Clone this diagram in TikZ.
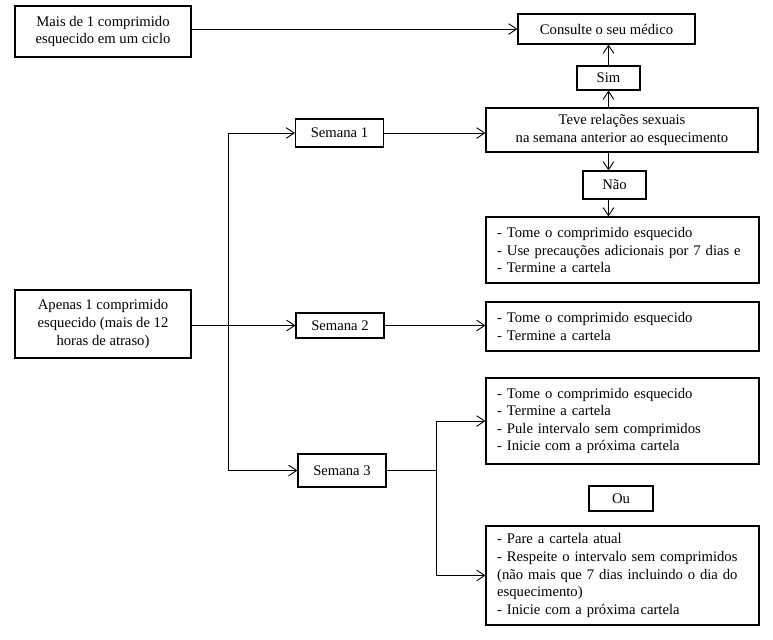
\documentclass[tikz,border=0pt]{standalone}
\usepackage{fontspec}
\setmainfont{Liberation Serif}
\usetikzlibrary{arrows.meta, positioning, calc}

\begin{document}
\begin{tikzpicture}[
    x=0.75pt, y=-0.75pt,
    every node/.style={font=\fontsize{11}{13.2}\selectfont},
    box/.style={rectangle, draw, line width=0.8pt, align=center, inner sep=2pt},
    listbox/.style={box, align=left, minimum width=204.75pt, text width=188pt,
                    inner xsep=8.25pt},
    weekbox/.style={box, minimum width=66pt},
    arr/.style={-{Straight Barb[length=6pt, width=8pt]}, line width=0.7pt},
    lin/.style={line width=0.7pt},
]
\useasboundingbox (0,0) rectangle (773,639);

% left column
\node[box, minimum width=132pt, minimum height=38.25pt] (maisde) at (103,31.5)
    {Mais de 1 comprimido\\esquecido em um ciclo};
\node[box, minimum width=132pt, minimum height=51pt] (apenas) at (103,324)
    {Apenas 1 comprimido\\esquecido (mais de 12\\horas de atraso)};

% weeks
\node[weekbox, minimum height=21pt] (sem1) at (339.5,133) {Semana 1};
\node[weekbox, minimum height=18.75pt] (sem2) at (340,325.5) {Semana 2};
\node[weekbox, minimum height=24.75pt] (sem3) at (342,470.5) {Semana 3};

% right column
\node[box, minimum width=132.75pt, minimum height=22.5pt] (medico) at (606.5,29)
    {Consulte o seu médico};
\node[box, minimum width=47.25pt, minimum height=18pt] (sim) at (608.5,78) {Sim};
\node[box, minimum width=204pt, minimum height=33pt] (relacoes) at (622,130)
    {Teve relações sexuais\\na semana anterior ao esquecimento};
\node[box, minimum width=47.25pt, minimum height=21pt] (nao) at (614.5,185) {Não};
\node[listbox, minimum height=49.5pt] (tome1) at (622.5,250)
    {- Tome o comprimido esquecido\\- Use precauções adicionais por 7 dias e\\- Termine a cartela};
\node[listbox, minimum height=36.75pt] (tome2) at (622.5,326.5)
    {- Tome o comprimido esquecido\\- Termine a cartela};
\node[listbox, minimum height=64.5pt] (tome3) at (622.5,421)
    {- Tome o comprimido esquecido\\- Termine a cartela\\- Pule intervalo sem comprimidos\\- Inicie com a próxima cartela};
\node[box, minimum width=48pt, minimum height=18.75pt] (ou) at (621,498.5) {Ou};
\node[listbox, minimum height=74.25pt] (pare) at (622.5,575.5)
    {- Pare a cartela atual\\- Respeite o intervalo sem comprimidos\\(não mais que 7 dias incluindo o dia do\\esquecimento)\\- Inicie com a próxima cartela};

% branch points
\coordinate (split) at (228,0);
\coordinate (fork) at (436,0);

% Arrows
\draw[arr] (maisde.east |- medico) -- (medico.west);
\draw[arr] (sim.north) -- (sim.north |- medico.south);
\draw[arr] (relacoes.north -| sim) -- (sim.south);
\draw[arr] (relacoes.south -| sim) -- (nao.north -| sim);
\draw[arr] (nao.south -| sim) -- (tome1.north -| sim);
\draw[arr] (sem1.east) -- (relacoes.west |- sem1);
\draw[arr] (sem2.east) -- (tome2.west |- sem2);
\draw[arr] (apenas.east |- sem2) -- (sem2.west);

% week split
\draw[lin] (split |- sem1) -- (split |- sem3);
\draw[arr] (split |- sem1) -- (sem1.west);
\draw[arr] (split |- sem3) -- (sem3.west);

% week 3 fork
\draw[lin] (sem3.east) -- (fork |- sem3);
\draw[lin] (fork |- tome3) -- (fork |- pare);
\draw[arr] (fork |- tome3) -- (tome3.west);
\draw[arr] (fork |- pare) -- (pare.west);

\end{tikzpicture}
\end{document}
